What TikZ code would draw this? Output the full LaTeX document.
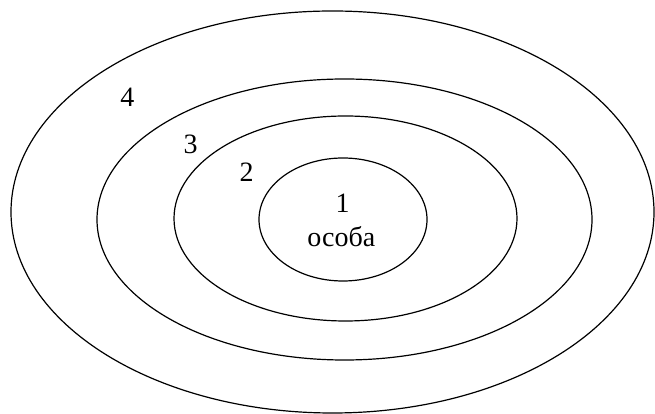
\documentclass[tikz,border=0pt]{standalone}
\usepackage{fontspec}
\setmainfont{Liberation Serif}
\newfontfamily\labelfont{Liberation Serif}
\usepackage{tikz}

\begin{document}
\begin{tikzpicture}[x=1pt,y=1pt,line width=1.2pt,
 every node/.style={font=\labelfont\fontsize{28}{32}\selectfont,inner sep=0pt,anchor=base},
 ring/.style={draw=black}]
\useasboundingbox (0,0) rectangle (655,414);
% nested rings, outermost first
\draw[ring] (332.5,202) ellipse [x radius=321.5,y radius=201];
\draw[ring] (344.5,194.5) ellipse [x radius=247.5,y radius=140.5];
\draw[ring] (345.5,195.5) ellipse [x radius=171.5,y radius=102.5];
\draw[ring] (343,194.5) ellipse [x radius=84,y radius=61.5];
% labels
\node (l4) at (127.3,307) {4};
\node (l3) at (190.5,260) {3};
\node (l2) at (246.7,232) {2};
\node (l1) at (342.7,201) {1};
\node (osoba) at (341.3,167) {особа};
\end{tikzpicture}
\end{document}
